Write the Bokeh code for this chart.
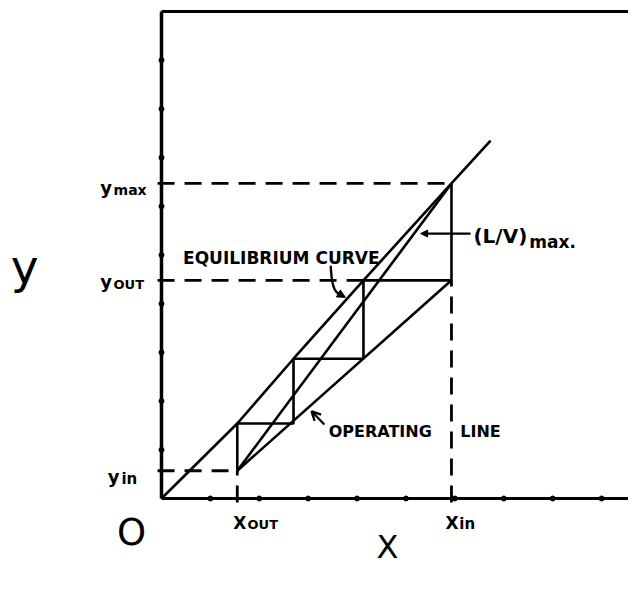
from bokeh.plotting import figure
from bokeh.models import Range1d, Arrow, NormalHead, OpenHead
from bokeh.core.properties import value
from bokeh.embed import file_html
from bokeh.resources import INLINE

# ---------------- data ----------------
x_out, x_in = 1.55, 5.93
y_in, y_out, y_max = 0.57, 4.48, 6.47

# equilibrium curve points
eq_x = [0.0, 1.55, 2.70, 4.13, 5.93, 6.73]
eq_y = [0.0, 1.54, 2.87, 4.48, 6.47, 7.35]

# operating line (end points) and max L/V line
op_x = [x_out, x_in]
op_y = [y_in, y_out]
mx_x = [x_out, x_in]
mx_y = [y_in, y_max]

# stage construction (staircase)
stair_x = [1.55, 1.55, 2.70, 2.70, 4.13, 4.13, 5.93, 5.93]
stair_y = [0.57, 1.54, 1.54, 2.87, 2.87, 4.48, 4.48, 6.47]

# axis tick positions
x_ticks = [1, 2, 3, 4, 5, 6, 7, 8, 9]
y_ticks = [1, 2, 3, 4, 5, 6, 7, 8, 9]
axis_top = 10
axis_right = 10

FONT = value("DejaVu Sans")
EXT = 0.08  # small tick extension of guide lines beyond the axis

p = figure(width=628, height=573, output_backend="svg", toolbar_location=None,
           x_axis_type=None, y_axis_type=None, min_border=0,
           x_range=Range1d(-3.292, 9.550), y_range=Range1d(-1.540, 10.226))
p.outline_line_color = None
p.background_fill_color = "white"
p.border_fill_color = "white"
p.grid.visible = False

# ---------------- frame ----------------
p.line([0, 0], [0, axis_top], line_color="black", line_width=3.5)
p.line([0, axis_right], [axis_top, axis_top], line_color="black", line_width=3.2)
p.line([0, axis_right], [0, 0], line_color="black", line_width=3.2)
p.scatter(x=[0] * len(y_ticks), y=y_ticks, size=5, color="black")
p.scatter(x=x_ticks, y=[0] * len(x_ticks), size=5, color="black")

# ---------------- dashed guide lines ----------------
dash = "17 10"
p.multi_line(
    xs=[[-EXT, x_in], [-EXT, stair_x[4]], [-EXT, x_out], [x_out, x_out], [x_in, x_in]],
    ys=[[y_max, y_max], [y_out, y_out], [y_in, y_in], [-EXT, y_in], [-EXT, y_out]],
    line_color="black", line_width=2.8, line_dash=dash)

# ---------------- curves ----------------
lw = 2.6
p.line(eq_x, eq_y, line_color="black", line_width=lw)
p.line(op_x, op_y, line_color="black", line_width=lw)
p.line(mx_x, mx_y, line_color="black", line_width=lw)
p.line(stair_x, stair_y, line_color="black", line_width=lw)

# ---------------- axis-value labels ----------------
def txt(x, y, t, size, style="bold", align="left", baseline="alphabetic"):
    p.text(x=[x], y=[y], text=[t], text_font=FONT, text_font_size=size,
           text_font_style=style, text_align=align, text_baseline=baseline,
           text_color="black")

txt(-1.25, y_max - 0.08, "y", "18px")
txt(-0.98, y_max - 0.13, "max", "14px")
txt(-1.25, y_out - 0.02, "y", "18px")
txt(-0.98, y_out - 0.09, "OUT", "13px")
txt(-1.10, y_in - 0.12, "y", "18px")
txt(-0.82, y_in - 0.16, "in", "15px")
txt(x_out - 0.08, -0.51, "X", "17px")
txt(x_out + 0.21, -0.53, "OUT", "13px")
txt(x_in - 0.12, -0.51, "X", "17px")
txt(x_in + 0.16, -0.53, "in", "15px")

# big axis letters
txt(-2.80, 4.76, "y", "47px", style="normal", align="center")
txt(-0.61, -0.70, "O", "37px", style="normal", align="center")
txt(4.62, -1.00, "X", "32px", style="normal", align="center", baseline="middle")

# ---------------- annotations ----------------
txt(2.45, 4.93, "EQUILIBRIUM CURVE", "17px", align="center")
txt(3.42, 1.38, "OPERATING", "16px")
txt(6.11, 1.38, "LINE", "16px")
txt(6.38, 5.38, "(L/V)", "20px")
txt(7.52, 5.26, "max.", "17px")

# arrow to max line
p.add_layout(Arrow(end=NormalHead(size=7, fill_color="black", line_color="black"),
                   x_start=6.32, y_start=5.44, x_end=5.30, y_end=5.44,
                   line_color="black", line_width=2.2))
# hook arrow to equilibrium curve
p.bezier(x0=[3.46], y0=[4.78], x1=[3.66], y1=[4.19], cx0=[3.48], cy0=[4.41],
         cx1=[3.52], cy1=[4.23], line_color="black", line_width=2.4)
p.add_layout(Arrow(end=NormalHead(size=8, fill_color="black", line_color="black"),
                   x_start=3.62, y_start=4.21, x_end=3.76, y_end=4.13,
                   line_color="black", line_width=2.2))
# arrow to operating line
p.add_layout(Arrow(end=OpenHead(size=9, line_color="black", line_width=2.4),
                   x_start=3.33, y_start=1.52, x_end=3.07, y_end=1.79,
                   line_color="black", line_width=2.2))

open("out.html", "w").write(file_html(p, INLINE))
